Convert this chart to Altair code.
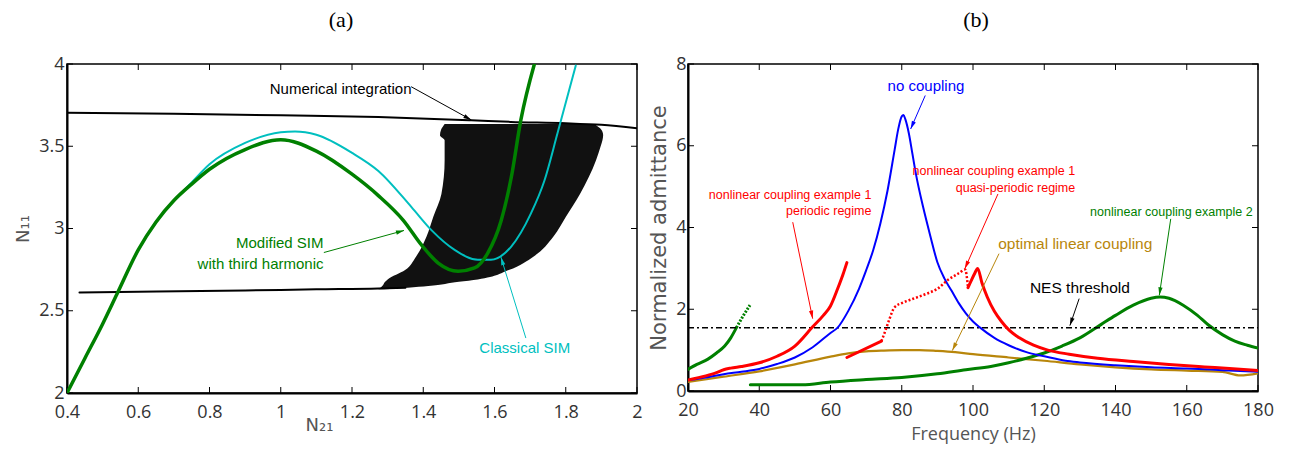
import math
import altair as alt
import pandas as pd

# ---------------- Panel (a) data ----------------
a_xticks = [0.4, 0.6, 0.8, 1.0, 1.2, 1.4, 1.6, 1.8, 2.0]
a_yticks = [2.0, 2.5, 3.0, 3.5, 4.0]

mod_x = [0.4, 0.45, 0.5, 0.54, 0.6, 0.65, 0.7, 0.75, 0.8, 0.9, 1.0, 1.1, 1.2, 1.274,
         1.344, 1.395, 1.442, 1.498, 1.544, 1.581, 1.619, 1.647, 1.674, 1.712]
mod_y = [2.0, 2.21, 2.42, 2.6, 2.87, 3.04, 3.17, 3.27, 3.36, 3.48, 3.54, 3.47, 3.33, 3.2,
         3.05, 2.9, 2.79, 2.74, 2.76, 2.85, 3.05, 3.31, 3.66, 4.0]

cla_x = [0.4, 0.45, 0.5, 0.54, 0.6, 0.65, 0.7, 0.75, 0.8, 0.9, 1.0, 1.04, 1.1, 1.2, 1.274,
         1.367, 1.423, 1.488, 1.553, 1.59, 1.647, 1.702, 1.74, 1.777, 1.828]
cla_y = [2.0, 2.21, 2.42, 2.6, 2.87, 3.04, 3.17, 3.28, 3.39, 3.52, 3.585, 3.59, 3.57, 3.46, 3.35,
         3.13, 2.99, 2.87, 2.81, 2.81, 2.89, 3.09, 3.29, 3.58, 3.99]

num_top_x = [0.4, 0.7, 1.0, 1.274, 1.535, 1.646, 1.8, 1.9, 2.0]
num_top_y = [3.704, 3.697, 3.688, 3.678, 3.658, 3.648, 3.64, 3.63, 3.61]
num_bot_x = [0.435, 0.6, 0.9, 1.1, 1.274, 1.35]
num_bot_y = [2.611, 2.615, 2.623, 2.63, 2.635, 2.64]
num_band_y = [2.63, 2.65, 2.676, 2.69, 2.747, 2.83, 2.95, 3.07, 3.21, 3.415, 3.5, 3.536, 3.567, 3.6, 3.635]
num_band_l = [1.274, 1.285, 1.293, 1.30, 1.349, 1.38, 1.409, 1.428, 1.451, 1.46, 1.46, 1.46, 1.447, 1.45, 1.46]
num_band_r = [1.29, 1.414, 1.5, 1.553, 1.64, 1.71, 1.765, 1.80, 1.84, 1.885, 1.898, 1.903, 1.905, 1.9, 1.88]

# ---------------- Panel (b) data ----------------
b_xticks = [20, 40, 60, 80, 100, 120, 140, 160, 180]
b_yticks = [0, 2, 4, 6, 8]

blue_f = [20, 25, 30, 35, 40, 45, 50, 55, 60, 62, 65, 68, 70, 72, 74, 76, 78, 79, 80, 80.5, 81, 82,
          83, 84, 86, 88, 90, 92, 94, 96, 98, 100, 102, 106, 110, 115, 120, 126, 130, 140, 150,
          160, 170, 180]
blue_v = [0.26, 0.33, 0.41, 0.47, 0.54, 0.66, 0.82, 1.07, 1.42, 1.55, 1.96, 2.5, 2.95, 3.45, 4.1,
          4.9, 5.9, 6.4, 6.72, 6.75, 6.65, 6.3, 5.8, 5.3, 4.5, 3.8, 3.15, 2.75, 2.45, 2.15, 1.9,
          1.7, 1.55, 1.3, 1.12, 0.95, 0.85, 0.74, 0.70, 0.63, 0.58, 0.55, 0.51, 0.47]

red1_f = [20, 25, 28, 30, 32, 35, 40, 45, 50, 55, 58, 60, 62, 63.5, 64.6]
red1_v = [0.27, 0.37, 0.45, 0.52, 0.56, 0.6, 0.69, 0.85, 1.1, 1.57, 1.85, 2.08, 2.5, 2.85, 3.14]
red2_f = [64.6, 74.3]
red2_v = [0.82, 1.22]
red3_f = [74.3, 75.5, 76.5, 78, 80, 83, 87, 90, 93, 96, 97.8, 98.6]
red3_v = [1.22, 1.5, 1.75, 2.05, 2.15, 2.25, 2.38, 2.5, 2.72, 2.88, 2.97, 2.53]
red4_f = [98.6, 99.5, 100.5, 101.3, 102.5, 104, 106, 108, 110, 113, 117, 121, 127, 135, 145,
          155, 165, 172, 180]
red4_v = [2.53, 2.7, 2.88, 3.0, 2.65, 2.3, 1.95, 1.7, 1.5, 1.3, 1.12, 1.0, 0.9, 0.8, 0.72,
          0.65, 0.59, 0.55, 0.5]

gold_f = [20, 30, 40, 50, 60, 65, 70, 75, 80, 85, 90, 95, 100, 110, 120, 130, 140, 150, 160,
          170, 175, 180]
gold_v = [0.22, 0.35, 0.48, 0.65, 0.84, 0.92, 0.97, 0.99, 1.0, 1.0, 0.98, 0.95, 0.9, 0.82,
          0.74, 0.65, 0.58, 0.53, 0.5, 0.47, 0.38, 0.43]

grL_f = [20, 22.5, 25.6, 28, 30.3, 32, 33.6]
grL_v = [0.53, 0.65, 0.78, 0.93, 1.1, 1.3, 1.55]
grLd_f = [33.6, 35.5, 37.4]
grLd_v = [1.55, 1.84, 2.1]
gr_f = [37.5, 45, 52, 60, 70, 80, 90, 98, 105, 110, 115, 120, 125, 130, 136, 140, 145, 150,
        152.5, 155, 159, 163, 166, 170, 173.5, 177, 180]
gr_v = [0.15, 0.15, 0.15, 0.22, 0.28, 0.33, 0.42, 0.52, 0.6, 0.69, 0.8, 0.93, 1.1, 1.3, 1.63,
        1.85, 2.1, 2.27, 2.3, 2.27, 2.1, 1.85, 1.62, 1.38, 1.22, 1.12, 1.05]

nes_f = [20, 180]
nes_v = [1.55, 1.55]

# ---------------- layout constants ----------------
WA, HA = 570, 329
WB, HB = 570, 327
XA, YA = [0.4, 2.0], [2.0, 4.0]
XB, YB = [20, 180], [0, 8]

TICKF = "Open Sans"
ANNF = "Liberation Sans"

BLUE, RED, GOLD, GREEN, CYAN = "#0000FF", "#FF0000", "#B8860B", "#008000", "#00BFBF"

common_axis = dict(
    tickSize=0, labelFont=TICKF, labelFontSize=18, labelColor="#333",
    domainColor="black", domainWidth=2, grid=False, labelFlush=False, labelOverlap=False,
    titleFontWeight="normal", titleColor="#555",
)

axA_x = alt.Axis(values=a_xticks, format="~g", labelPadding=10, title="N₂₁", titleFont="DejaVu Sans",
                 titleFontSize=18, titleX=252, titleY=37, titleBaseline="alphabetic", **common_axis)
axA_y = alt.Axis(values=a_yticks, format="~g", labelPadding=3, title="N₁₁", titleFont="DejaVu Sans",
                 titleFontSize=18, titlePadding=6, **common_axis)
axB_x = alt.Axis(values=b_xticks, format="d", labelPadding=10, title="Frequency (Hz)",
                 titleFont="Open Sans", titleFontSize=18, titleY=48, titleBaseline="alphabetic",
                 **common_axis)
axB_y = alt.Axis(values=b_yticks, format="d", labelPadding=2, title="Normalized admittance",
                 titleFont="DejaVu Sans", titleFontSize=21, titlePadding=6, **common_axis)

PANEL = {
    "a": dict(xd=XA, yd=YA, W=WA, H=HA, ax=axA_x, ay=axA_y),
    "b": dict(xd=XB, yd=YB, W=WB, H=HB, ax=axB_x, ay=axB_y),
}


def sc(dom):
    return alt.Scale(domain=dom, nice=False, zero=False)


def X(field, p):
    return alt.X(field, scale=sc(p["xd"]), axis=p["ax"])


def Y(field, p):
    return alt.Y(field, scale=sc(p["yd"]), axis=p["ay"])


def line(xv, yv, p, color, width, dash=None, smooth=True):
    df = pd.DataFrame({"x": xv, "y": yv, "i": list(range(len(xv)))})
    kw = dict(color=color, strokeWidth=width, clip=True, strokeCap="round")
    if smooth:
        kw["interpolate"] = "monotone"
    if dash:
        kw["strokeDash"] = dash
        kw["strokeCap"] = "butt"
    return alt.Chart(df).mark_line(**kw).encode(x=X("x:Q", p), y=Y("y:Q", p), order="i:Q")


def arrow(x0, y0, x1, y1, p, color, width=1.0, size=90):
    df = pd.DataFrame({"x": [x0], "y": [y0], "x2": [x1], "y2": [y1]})
    xd, yd = p["xd"], p["yd"]
    dx = (x1 - x0) / (xd[1] - xd[0]) * p["W"]
    dy = -(y1 - y0) / (yd[1] - yd[0]) * p["H"]
    ang = math.degrees(math.atan2(dx, -dy)) % 360
    shaft = alt.Chart(df).mark_rule(color=color, strokeWidth=width).encode(
        x=X("x:Q", p), y=Y("y:Q", p), x2="x2:Q", y2="y2:Q")
    head = alt.Chart(df).mark_point(
        shape="M0,0L-0.45,1.7L0.45,1.7Z", filled=True, color=color, opacity=1,
        size=size, angle=ang, strokeWidth=0,
    ).encode(x=X("x2:Q", p), y=Y("y2:Q", p))
    return shaft + head


def label(txt, x, y, p, color, size, align="center"):
    df = pd.DataFrame({"t": [txt], "x": [x], "y": [y]})
    return alt.Chart(df).mark_text(
        font=ANNF, fontSize=size, color=color, align=align, baseline="middle"
    ).encode(x=X("x:Q", p), y=Y("y:Q", p), text="t:N")


def frame_ticks(xt, yt, p):
    dx = pd.DataFrame({"t": xt})
    dy = pd.DataFrame({"t": yt})
    L, W, H = 6, p["W"], p["H"]
    bx = alt.Chart(dx).mark_rule(color="black", strokeWidth=1).encode(
        x=X("t:Q", p), y=alt.value(H - L), y2=alt.value(H))
    tx = alt.Chart(dx).mark_rule(color="black", strokeWidth=1).encode(
        x=X("t:Q", p), y=alt.value(0), y2=alt.value(L))
    ly = alt.Chart(dy).mark_rule(color="black", strokeWidth=1).encode(
        y=Y("t:Q", p), x=alt.value(0), x2=alt.value(L))
    ry = alt.Chart(dy).mark_rule(color="black", strokeWidth=1).encode(
        y=Y("t:Q", p), x=alt.value(W - L), x2=alt.value(W))
    return bx + tx + ly + ry


# ---------------- Panel (a) ----------------
pa = PANEL["a"]
band_df = pd.DataFrame({"y": num_band_y, "l": num_band_l, "r": num_band_r})
band = alt.Chart(band_df).mark_area(orient="horizontal", color="#111111", opacity=1,
                                    interpolate="monotone").encode(
    y=Y("y:Q", pa), x=X("l:Q", pa), x2="r:Q")

panel_a = alt.layer(
    frame_ticks(a_xticks, a_yticks, pa),
    band,
    line(num_top_x, num_top_y, pa, "black", 2),
    line(num_bot_x, num_bot_y, pa, "black", 2),
    line(cla_x, cla_y, pa, CYAN, 2),
    line(mod_x, mod_y, pa, GREEN, 3.5),
    label("Numerical integration", 1.168, 3.85, pa, "black", 15),
    arrow(1.366, 3.862, 1.535, 3.66, pa, "black"),
    label("Modified SIM", 1.12, 2.911, pa, GREEN, 15, align="right"),
    label("with third harmonic", 1.12, 2.785, pa, GREEN, 15, align="right"),
    arrow(1.121, 2.854, 1.346, 2.988, pa, GREEN),
    label("Classical SIM", 1.685, 2.273, pa, CYAN, 15),
    arrow(1.688, 2.334, 1.618, 2.826, pa, CYAN),
).properties(
    width=WA, height=HA,
    title=alt.TitleParams("(a)", font="Liberation Serif", fontSize=22, fontWeight="normal",
                          color="black", dx=-11, offset=23, anchor="middle"),
)

# ---------------- Panel (b) ----------------
pb = PANEL["b"]
panel_b = alt.layer(
    frame_ticks(b_xticks, b_yticks, pb),
    line(gold_f, gold_v, pb, GOLD, 2.2),
    line(gr_f, gr_v, pb, GREEN, 3),
    line(grL_f, grL_v, pb, GREEN, 3),
    line(grLd_f, grLd_v, pb, GREEN, 3, dash=[2, 1.5]),
    line(nes_f, nes_v, pb, "black", 1.5, dash=[6, 3, 2, 3], smooth=False),
    line(blue_f, blue_v, pb, BLUE, 2),
    line(red1_f, red1_v, pb, RED, 3),
    line(red2_f, red2_v, pb, RED, 3),
    line(red3_f, red3_v, pb, RED, 2.5, dash=[2, 2]),
    line(red4_f, red4_v, pb, RED, 3),
    label("no coupling", 86.8, 7.47, pb, BLUE, 15),
    arrow(86.6, 7.23, 82.5, 6.41, pb, BLUE),
    label("nonlinear coupling example 1", 71.5, 4.8, pb, RED, 12.5, align="right"),
    label("periodic regime", 71.5, 4.4, pb, RED, 12.5, align="right"),
    arrow(49.4, 4.13, 55.0, 1.77, pb, RED),
    label("nonlinear coupling example 1", 128.7, 5.39, pb, RED, 12.5, align="right"),
    label("quasi-periodic regime", 128.7, 4.97, pb, RED, 12.5, align="right"),
    arrow(107, 4.82, 97.7, 2.99, pb, RED),
    label("optimal linear coupling", 128.7, 3.6, pb, GOLD, 15.5),
    arrow(107.3, 3.36, 94.2, 0.99, pb, GOLD),
    label("NES threshold", 130, 2.53, pb, "black", 15.5),
    arrow(129.8, 2.26, 127.2, 1.6, pb, "black"),
    label("nonlinear coupling example 2", 155.7, 4.37, pb, GREEN, 12.5),
    arrow(155.5, 4.21, 152.3, 2.34, pb, GREEN),
).properties(
    width=WB, height=HB,
    title=alt.TitleParams("(b)", font="Liberation Serif", fontSize=22, fontWeight="normal",
                          color="black", dx=3, offset=23, anchor="middle"),
)

chart = alt.hconcat(panel_a, panel_b, spacing=4).properties(
    padding={"left": 5, "top": 0, "right": 5, "bottom": 0},
    background="white",
).configure_view(stroke="black", strokeWidth=1.5)

chart.save("out.html", embed_options={"renderer": "svg", "actions": False})
